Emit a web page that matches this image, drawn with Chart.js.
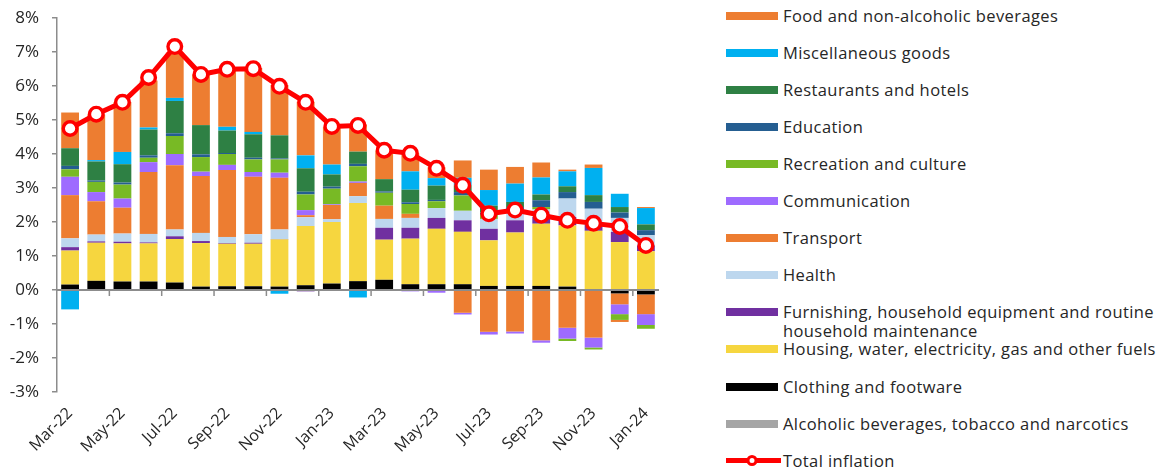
<!DOCTYPE html>
<html>
<head>
<meta charset="utf-8">
<script src="https://cdn.jsdelivr.net/npm/chart.js@4/dist/chart.umd.min.js"></script>
<style>
  html, body { margin: 0; padding: 0; background: #fff; }
  body { width: 1158px; height: 469px; position: relative; overflow: hidden; font-family: "Open Sans", sans-serif; color: #262626; }
  #chartBox { position: absolute; left: 0; top: 0; width: 680px; height: 469px; }
  #legend { position: absolute; left: 726px; top: 0; width: 432px; height: 469px; }
  .row { position: absolute; left: 0; display: flex; align-items: flex-start; font-size: 16.5px; letter-spacing: 0.4px; line-height: 19px; }
  .swatch { flex: 0 0 52px; height: 8px; margin-top: 6px; margin-right: 5px; }
  .label { white-space: nowrap; }
</style>
</head>
<body>
<div id="chartBox"><canvas id="inflationChart"></canvas></div>
<div id="legend"></div>
<script>
const months = ["Mar-22", "Apr-22", "May-22", "Jun-22", "Jul-22", "Aug-22", "Sep-22", "Oct-22", "Nov-22", "Dec-22", "Jan-23", "Feb-23",
    "Mar-23", "Apr-23", "May-23", "Jun-23", "Jul-23", "Aug-23", "Sep-23", "Oct-23", "Nov-23", "Dec-23", "Jan-24"];

// contributions to annual inflation, percentage points
const alcohol      = [0.02, 0.02, 0.02, 0.02, 0.02, 0.02, 0.02, 0.02, 0.02, 0.02, 0.02, 0.02, 0.02, 0.02, 0.02, 0.02, 0.02, 0.02, 0.02, 0.02, 0.02, 0.02, 0.02];
const clothing     = [0.14, 0.25, 0.23, 0.23, 0.20, 0.08, 0.09, 0.09, 0.08, 0.12, 0.17, 0.24, 0.28, 0.15, 0.15, 0.15, 0.10, 0.10, 0.10, 0.08, -0.03, -0.10, -0.13];
const housing      = [1.00, 1.12, 1.12, 1.12, 1.28, 1.28, 1.25, 1.25, 1.39, 1.74, 1.81, 2.30, 1.18, 1.34, 1.63, 1.54, 1.34, 1.57, 1.83, 1.80, 1.72, 1.39, 1.12];
const furnishing   = [0.10, 0.04, 0.05, 0.03, 0.08, 0.06, 0.02, 0.03, 0.01, -0.04, 0.00, 0.00, 0.35, 0.32, 0.32, 0.34, 0.34, 0.36, 0.20, 0.25, 0.18, 0.30, 0.17];
const health       = [0.26, 0.20, 0.24, 0.25, 0.20, 0.24, 0.18, 0.25, 0.28, 0.26, 0.08, 0.20, 0.26, 0.29, 0.29, 0.28, 0.29, 0.22, 0.22, 0.54, 0.47, 0.41, 0.30];
const transport    = [1.27, 0.98, 0.76, 1.82, 1.89, 1.67, 1.97, 1.69, 1.52, 0.06, 0.42, 0.39, 0.39, 0.12, -0.03, -0.67, -1.23, -1.22, -1.48, -1.11, -1.37, -0.32, -0.58];
const communication = [0.54, 0.27, 0.27, 0.29, 0.33, 0.13, 0.15, 0.14, 0.15, 0.15, 0.02, 0.04, 0.00, -0.04, -0.05, -0.05, -0.08, -0.06, -0.07, -0.32, -0.29, -0.29, -0.32];
const recreation   = [0.22, 0.30, 0.41, 0.13, 0.53, 0.43, 0.32, 0.37, 0.39, 0.46, 0.46, 0.45, 0.38, 0.29, 0.20, 0.45, 0.12, 0.10, 0.07, -0.07, -0.06, -0.17, -0.11];
const education    = [0.10, 0.04, 0.06, 0.07, 0.08, 0.08, 0.03, 0.05, 0.03, 0.08, 0.06, 0.07, 0.04, 0.05, 0.04, 0.10, 0.07, 0.07, 0.20, 0.19, 0.20, 0.16, 0.15];
const restaurants  = [0.52, 0.56, 0.54, 0.76, 0.95, 0.86, 0.66, 0.69, 0.68, 0.69, 0.36, 0.36, 0.36, 0.37, 0.42, 0.20, 0.20, 0.15, 0.17, 0.17, 0.20, 0.16, 0.17];
const miscellaneous = [-0.57, 0.04, 0.36, 0.06, 0.09, -0.03, 0.11, 0.07, -0.11, 0.38, 0.29, -0.22, 0.00, 0.54, 0.22, 0.22, 0.46, 0.54, 0.50, 0.44, 0.80, 0.39, 0.48];
const food         = [1.05, 1.34, 1.47, 1.38, 1.33, 1.49, 1.69, 1.88, 1.48, 1.58, 1.10, 0.80, 0.84, 0.53, 0.32, 0.51, 0.60, 0.49, 0.44, 0.05, 0.10, -0.06, 0.03];
const totalInflation = [4.75, 5.17, 5.52, 6.25, 7.16, 6.34, 6.49, 6.51, 5.99, 5.52, 4.81, 4.84, 4.11, 4.02, 3.58, 3.08, 2.24, 2.35, 2.20, 2.05, 1.96, 1.87, 1.31];

const yTicks = [-3, 8];

// stacked from the bottom up
const components = [
    { label: "Alcoholic beverages, tobacco and narcotics", data: alcohol, color: "#A5A5A5" },
    { label: "Clothing and footware", data: clothing, color: "#000000" },
    { label: "Housing, water, electricity, gas and other fuels", data: housing, color: "#F6D63F" },
    { label: "Furnishing, household equipment and routine household maintenance", data: furnishing, color: "#7030A0" },
    { label: "Health", data: health, color: "#BDD7EE" },
    { label: "Transport", data: transport, color: "#ED7D31" },
    { label: "Communication", data: communication, color: "#9E6BFF" },
    { label: "Recreation and culture", data: recreation, color: "#78BA25" },
    { label: "Education", data: education, color: "#255E91" },
    { label: "Restaurants and hotels", data: restaurants, color: "#2E8044" },
    { label: "Miscellaneous goods", data: miscellaneous, color: "#00B0F0" },
    { label: "Food and non-alcoholic beverages", data: food, color: "#ED7D31" },
];

const axisGrey = "#8C8C8C";
const textColor = "#262626";

// zero line with tick marks between every second month
const zeroAxis = {
    id: "zeroAxis",
    afterDatasetsDraw(chart) {
        const { ctx, chartArea, scales } = chart;
        const y0 = scales.y.getPixelForValue(0);
        ctx.save();
        ctx.strokeStyle = axisGrey;
        ctx.lineWidth = 2;
        ctx.beginPath();
        ctx.moveTo(chartArea.left, y0);
        ctx.lineTo(chartArea.right, y0);
        ctx.stroke();
        ctx.lineWidth = 1.5;
        for (let i = 2; i < months.length; i += 2) {
            const x = (scales.x.getPixelForValue(i) + scales.x.getPixelForValue(i - 1)) / 2;
            ctx.beginPath();
            ctx.moveTo(x, y0);
            ctx.lineTo(x, y0 + 6);
            ctx.stroke();
        }
        ctx.restore();
    }
};

const ctx = document.getElementById("inflationChart").getContext("2d");
const chart = new Chart(ctx, {
    data: {
        labels: months,
        datasets: [
            {
                type: "line",
                label: "Total inflation",
                data: totalInflation,
                stack: "total",
                order: 0,
                borderColor: "#FF0000",
                borderWidth: 5,
                pointRadius: 6.8,
                pointBorderWidth: 3.4,
                pointBackgroundColor: "#FFFFFF",
                pointBorderColor: "#FF0000",
                tension: 0,
            },
            ...components.map(c => ({
                type: "bar",
                label: c.label,
                data: c.data,
                stack: "components",
                order: 1,
                backgroundColor: c.color,
                borderWidth: 0,
                barPercentage: 0.68,
                categoryPercentage: 1,
            })),
        ],
    },
    options: {
        responsive: true,
        maintainAspectRatio: false,
        animation: false,
        layout: { padding: { top: 18, right: 21, left: 0, bottom: 0 } },
        plugins: {
            legend: { display: false },
            tooltip: { enabled: false },
        },
        scales: {
            x: {
                stacked: true,
                offset: true,
                grid: { display: false },
                border: { display: false },
                ticks: {
                    autoSkip: false,
                    maxRotation: 45,
                    minRotation: 45,
                    padding: 4,
                    color: textColor,
                    font: { family: "Open Sans", size: 16 },
                    callback: (v, i) => (i % 2 === 0 ? months[i] : null),
                },
                afterFit: (scale) => { scale.height = 77; },
            },
            y: {
                stacked: true,
                min: yTicks[0],
                max: yTicks[1],
                grid: { drawOnChartArea: false, color: axisGrey, lineWidth: 1.5, tickLength: 5 },
                border: { color: axisGrey, width: 1.5 },
                ticks: {
                    stepSize: 1,
                    padding: 13,
                    color: textColor,
                    font: { family: "Open Sans", size: 17 },
                    callback: (v) => v + "%",
                },
                afterFit: (scale) => {
                    scale.width = 57;
                    scale.paddingTop = 0;
                    scale.paddingBottom = 0;
                },
            },
        },
    },
    plugins: [zeroAxis],
});

// legend, top to bottom in reverse stacking order, line last
const legendBox = document.getElementById("legend");
const legendItems = components.slice().reverse();
legendItems.forEach((c, i) => {
    const row = document.createElement("div");
    row.className = "row";
    row.style.top = (15 + i * 37.1 - 9.5) + "px";
    const sw = document.createElement("div");
    sw.className = "swatch";
    sw.style.background = c.color;
    const txt = document.createElement("div");
    txt.className = "label";
    txt.innerHTML = c.label.replace(" and routine ", " and routine<br>");
    row.appendChild(sw);
    row.appendChild(txt);
    legendBox.appendChild(row);
});
const lineRow = document.createElement("div");
lineRow.className = "row";
lineRow.style.top = (15 + legendItems.length * 37.1 - 9.5) + "px";
lineRow.innerHTML = '<svg width="57" height="19" style="flex:0 0 57px"><line x1="0" y1="9.5" x2="55" y2="9.5" stroke="#FF0000" stroke-width="5"/>' +
    '<circle cx="26" cy="9.5" r="4" fill="#FFFFFF" stroke="#FF0000" stroke-width="3"/></svg><div class="label">Total inflation</div>';
legendBox.appendChild(lineRow);
</script>
</body>
</html>
